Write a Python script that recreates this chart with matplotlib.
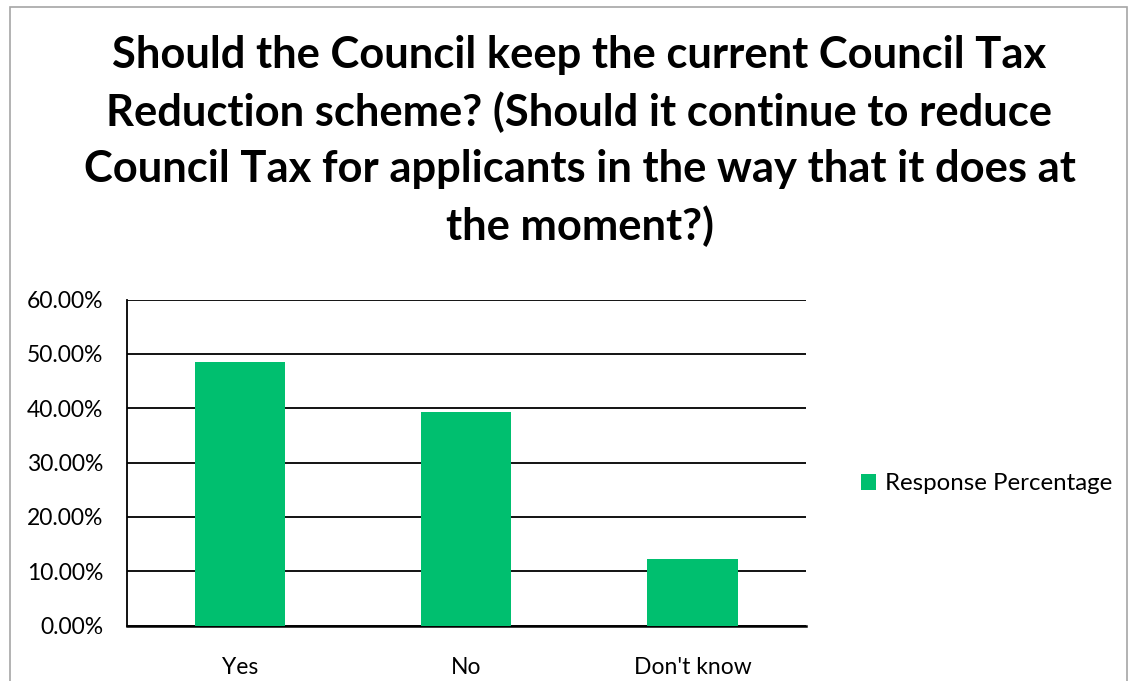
import matplotlib
matplotlib.use("Agg")
import matplotlib.pyplot as plt
from matplotlib.patches import Rectangle
from matplotlib.ticker import FuncFormatter

categories = ["Yes", "No", "Don't know"]
values = [48.5, 39.3, 12.2]
series_name = "Response Percentage"
title = ("Should the Council keep the current Council Tax\n"
         "Reduction scheme? (Should it continue to reduce\n"
         "Council Tax for applicants in the way that it does at\n"
         "the moment?)")

FONT = "Lato"
GREEN = "#00BF6F"

fig = plt.figure(figsize=(11.31, 6.81), dpi=100)
W, H = 1131, 681
# outer border
fig.patches.append(Rectangle((10 / W, -0.01), (1127 - 10) / W, (681 - 7) / H + 0.01,
                             transform=fig.transFigure, fill=False,
                             edgecolor="#A6A6A6", linewidth=1.2))

ax = fig.add_axes([127 / W, 1 - 625.5 / H, (805.5 - 127) / W, (625.5 - 299.5) / H])
x = range(len(categories))
ax.bar(x, values, width=0.40, color=GREEN, label=series_name, zorder=3)
ax.set_xlim(-0.5, len(categories) - 0.5)
ax.set_ylim(0, 60)
ax.set_yticks(range(0, 61, 10))
ax.yaxis.set_major_formatter(FuncFormatter(lambda v, p: f"{v:.2f}%"))
ax.set_xticks(list(x))
ax.set_xticklabels(categories)
ax.grid(axis="y", color="black", linewidth=1.3, zorder=0)
for s in ["top", "right"]:
    ax.spines[s].set_visible(False)
ax.spines["left"].set_linewidth(1.3)
ax.spines["bottom"].set_linewidth(1.8)
ax.tick_params(axis="both", length=0, labelsize=16.5, colors="black")
ax.tick_params(axis="x", pad=23)
ax.tick_params(axis="y", pad=17)
for lab in ax.get_xticklabels() + ax.get_yticklabels():
    lab.set_fontfamily(FONT)

leg = fig.legend(loc="center left", bbox_to_anchor=(851 / W, 1 - 484 / H), frameon=False,
                 prop={"family": FONT, "size": 17.3}, handlelength=0.65, handleheight=0.65,
                 handletextpad=0.35, borderaxespad=0)

fig.text(0.5 + 14 / W, 1 - 35 / H, title, ha="center", va="top", fontsize=31.3,
         fontweight="bold", family=FONT, linespacing=1.48)

fig.savefig("out.png", dpi=100)
